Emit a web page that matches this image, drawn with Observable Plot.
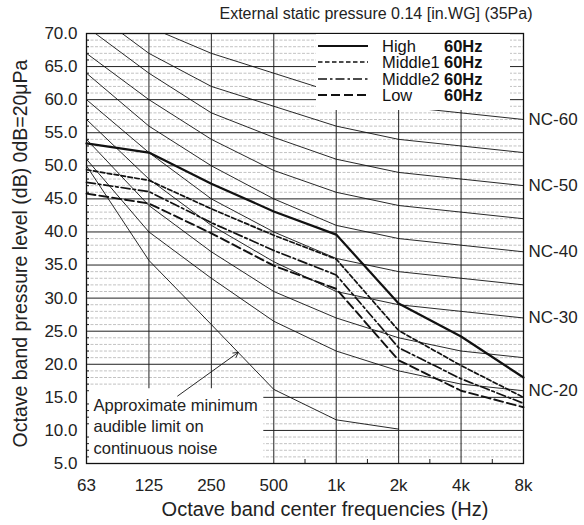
<!DOCTYPE html>
<html>
<head>
<meta charset="utf-8">
<script src="https://cdn.jsdelivr.net/npm/d3@7"></script>
<script src="https://cdn.jsdelivr.net/npm/@observablehq/plot@0.6"></script>
<style>
  body { margin: 0; background: #fff; font-family: "Liberation Sans", Arial, sans-serif; }
  #wrap { position: relative; width: 584px; height: 525px; }
  #legend { position: absolute; left: 316px; top: 34px; width: 194px; height: 76px; background: #fff; }
  .lrow { position: absolute; left: 0; height: 18px; width: 194px; font-size: 16.5px; color: #111; line-height: 18px; }
  .lrow svg { position: absolute; left: 2px; top: 4px; }
  .lrow .nm { position: absolute; left: 66px; top: 0; }
  .lrow .hz { position: absolute; left: 128px; top: 0; font-weight: bold; }
</style>
</head>
<body>
<div id="wrap"><div id="legend"></div></div>
<script>
// ---- data ----
const bands = ["63", "125", "250", "500", "1k", "2k", "4k", "8k"];
const yTicks = [5, 10, 15, 20, 25, 30, 35, 40, 45, 50, 55, 60, 65, 70];

// NC curves (dB at each octave band)
const nc20 = [51, 40, 33, 26.5, 22, 19, 17, 16];
const nc25 = [54, 44, 37, 31, 27, 24, 22, 21];
const nc30 = [57, 48, 41, 35.5, 31, 29, 28, 27];
const nc35 = [60, 52, 45, 40, 36, 34, 33, 32];
const nc40 = [64, 56, 50, 45, 41, 39, 38, 37];
const nc45 = [67, 60, 54, 49.3, 46, 44, 43, 42];
const nc50 = [71, 64, 58, 54.3, 51, 49, 48, 47];
const nc55 = [74, 67, 62, 59, 56, 54, 53, 52];
const nc60 = [77, 71, 67, 64, 61, 59, 58, 57];
const ncNames = ["NC-20", "NC-25", "NC-30", "NC-35", "NC-40", "NC-45", "NC-50", "NC-55", "NC-60"];
const ncLabelled = ["NC-20", "NC-30", "NC-40", "NC-50", "NC-60"];

// approximate minimum audible limit (63 Hz .. 2 kHz)
const minAudible = [50, 35.7, 26, 16.2, 11.6, 10.2];

// measured series
const seriesNames = ["High", "Middle1", "Middle2", "Low"];
const high    = [53.4, 52.0, 47.3, 43.1, 39.6, 29.2, 24.2, 18.0];
const middle1 = [49.4, 47.8, 43.5, 39.5, 35.9, 25.1, 19.8, 15.0];
const middle2 = [47.5, 46.1, 41.4, 37.2, 33.5, 22.5, 17.8, 14.1];
const low     = [45.8, 44.3, 39.8, 34.9, 31.4, 20.6, 16.0, 13.5];
const freqLabel = "60Hz";

const titleText = "External static pressure 0.14 [in.WG] (35Pa)";
const xTitle = "Octave band center frequencies (Hz)";
const yTitle = "Octave band pressure level (dB) 0dB=20μPa";
const annText = "Approximate minimum\naudible limit on\ncontinuous noise";

// ---- build tables ----
const ncSets = [nc20, nc25, nc30, nc35, nc40, nc45, nc50, nc55, nc60];
const ncData = ncSets.flatMap((vals, k) => vals.map((v, i) => ({ i, v, nc: ncNames[k] })));
const ncLabels = ncSets.map((vals, k) => ({ i: vals.length - 1, v: vals[vals.length - 1], nc: ncNames[k] }))
  .filter(d => ncLabelled.includes(d.nc));
const minData = minAudible.map((v, i) => ({ i, v }));

const styles = {
  High:    { dash: null,        w: 2.2 },
  Middle1: { dash: "4.5,2.5",   w: 1.7 },
  Middle2: { dash: "9,3,2.5,3", w: 1.7 },
  Low:     { dash: "9,4",       w: 1.9 }
};
const seriesVals = [high, middle1, middle2, low];

const minorY = d3.range(5, 71).filter(v => v % 5 !== 0);
const majorY = yTicks.filter(v => v > 5 && v < 70);
const octaveIdx = d3.range(bands.length);
const midIdx = d3.range(bands.length - 1).map(i => i + 0.5);

// annotation box (data space) and arrow
const annBox = { x1: 0, x2: 2.84, y1: 5, y2: 16.3 };
const arrowAt = 2.43; // position along min audible curve
const arrowEnd = { x: arrowAt, y: minAudible[2] + (minAudible[3] - minAudible[2]) * (arrowAt - 2) };
const arrowStart = { x: 1.46, y: 15.2 };

const font = '"Liberation Sans", Arial, sans-serif';

const marks = [
  Plot.ruleY(minorY, { stroke: "#a8a8a8", strokeWidth: 0.7, strokeDasharray: "3,1.5" }),
  Plot.ruleY(majorY, { stroke: "#222", strokeWidth: 1 }),
  Plot.ruleX(octaveIdx.slice(1, -1), { stroke: "#222", strokeWidth: 1 }),
  Plot.axisX({ ticks: midIdx, tickSize: -4, tickFormat: () => "", label: null, stroke: "#222" }),
  Plot.rect([annBox], { x1: "x1", x2: "x2", y1: "y1", y2: "y2", fill: "white" }),
  Plot.line(ncData, { x: "i", y: "v", z: "nc", stroke: "#111", strokeWidth: 0.9, clip: true }),
  Plot.line(minData, { x: "i", y: "v", stroke: "#111", strokeWidth: 0.9 })
];
seriesNames.forEach((name, k) => {
  marks.push(Plot.line(seriesVals[k].map((v, i) => ({ i, v })), {
    x: "i", y: "v", stroke: "#111", strokeWidth: styles[name].w,
    strokeDasharray: styles[name].dash || undefined
  }));
});
marks.push(
  Plot.text(ncLabels, { x: "i", y: "v", text: "nc", dx: 5, textAnchor: "start", fontSize: 17, fill: "#222" }),
  Plot.text([annText], { text: d => d, frameAnchor: "bottom-left", dx: 7, dy: -10, textAnchor: "start", lineAnchor: "bottom", fontSize: 16.5, lineHeight: 1.28, fill: "#222" }),
  Plot.arrow([0], { x1: () => arrowStart.x, y1: () => arrowStart.y, x2: () => arrowEnd.x, y2: () => arrowEnd.y, stroke: "#111", strokeWidth: 0.9, headLength: 9, bend: 0 }),
  Plot.axisY({ ticks: minorY, tickSize: -3, tickFormat: () => "", label: null, stroke: "#222" }),
  Plot.axisY({ ticks: yTicks, tickSize: 0, tickPadding: 9, tickFormat: d => d.toFixed(1), label: null, fontSize: 17, fill: "#222" }),
  Plot.axisX({ ticks: octaveIdx, tickSize: 0, tickPadding: 15, tickFormat: i => bands[i], label: null, fontSize: 17, fill: "#222" }),
  Plot.frame({ stroke: "#111", strokeWidth: 1.3 }),
  Plot.text([titleText], { text: d => d, frameAnchor: "top-right", textAnchor: "end", lineAnchor: "middle", dx: 9, dy: -20, fontSize: 16, fill: "#222" }),
  Plot.text([yTitle], { text: d => d, frameAnchor: "left", textAnchor: "middle", lineAnchor: "middle", rotate: -90, dx: -66, dy: 5, fontSize: 19.5, fill: "#222" }),
  Plot.text([xTitle], { text: d => d, frameAnchor: "bottom", textAnchor: "middle", lineAnchor: "middle", dx: 20, dy: 46, fontSize: 20, fill: "#222" })
);

const chart = Plot.plot({
  width: 584,
  height: 525,
  marginTop: 33,
  marginBottom: 62,
  marginLeft: 86,
  marginRight: 61,
  x: { domain: [0, bands.length - 1], axis: null },
  y: { domain: [yTicks[0], yTicks[yTicks.length - 1]], axis: null },
  style: { fontFamily: font, fontSize: "16px", background: "white", color: "#222" },
  marks
});
const wrap = document.getElementById("wrap");
wrap.insertBefore(chart, wrap.firstChild);

// ---- legend overlay ----
const legend = document.getElementById("legend");
seriesNames.forEach((name, k) => {
  const row = document.createElement("div");
  row.className = "lrow";
  row.style.top = (3 + k * 16.4) + "px";
  const st = styles[name];
  row.innerHTML =
    `<svg width="52" height="10"><line x1="0" x2="50" y1="5" y2="5" stroke="#111" stroke-width="${st.w}"` +
    (st.dash ? ` stroke-dasharray="${st.dash}"` : "") + `/></svg>` +
    `<span class="nm">${name}</span><span class="hz">${freqLabel}</span>`;
  legend.appendChild(row);
});
</script>
</body>
</html>
